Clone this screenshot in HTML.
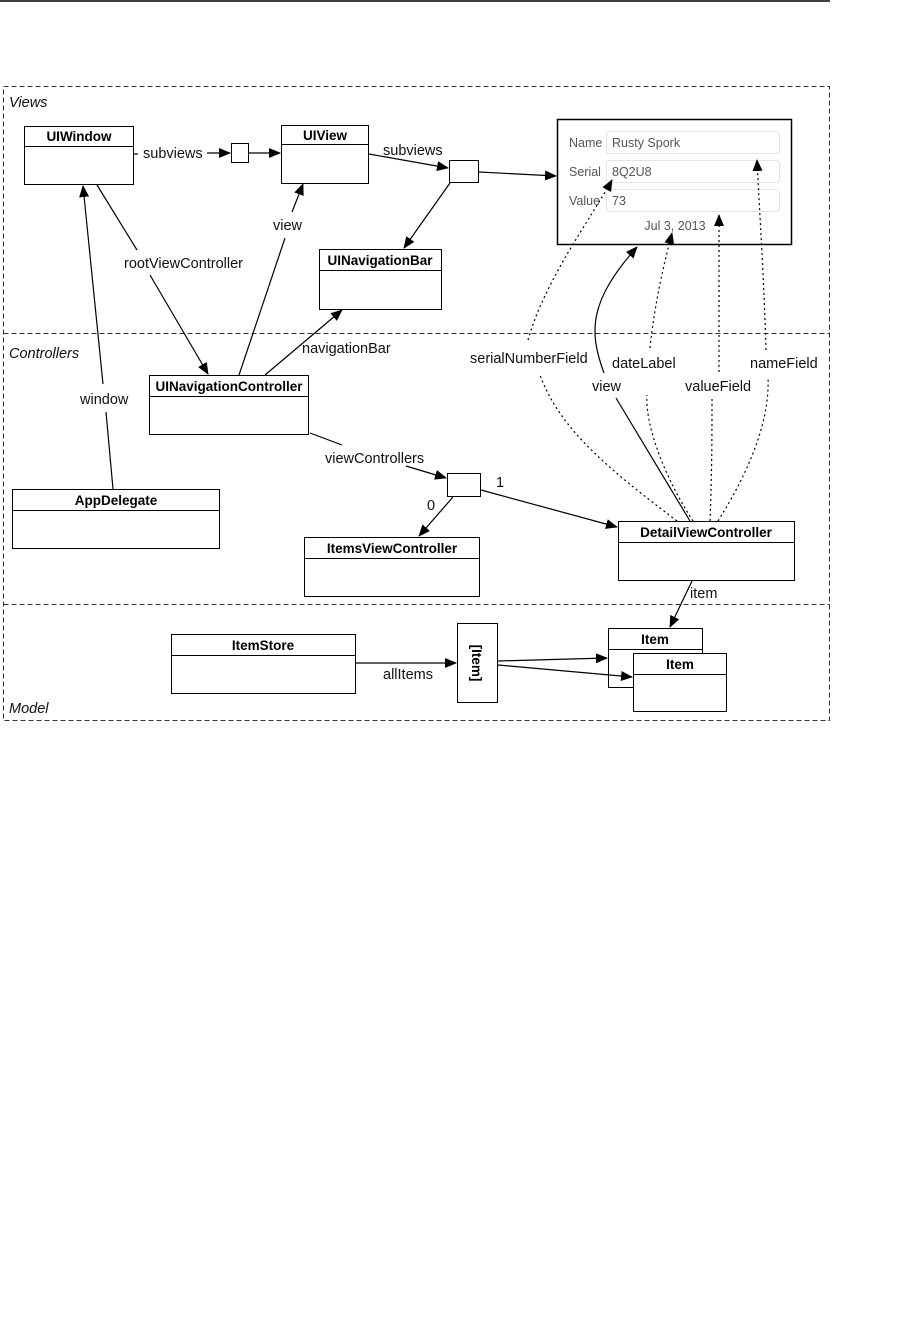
<!DOCTYPE html>
<html><head><meta charset="utf-8"><style>
html,body{margin:0;padding:0;background:#fff;}
svg{display:block;}
text{font-family:"Liberation Sans",sans-serif;}
.lb{font-size:14.5px;fill:#111;}
.cn{font-size:13.5px;font-weight:bold;fill:#000;text-anchor:middle;}
.fm{font-size:12.5px;fill:#555;}
</style></head><body>
<svg width="900" height="1339" viewBox="0 0 900 1339" xmlns="http://www.w3.org/2000/svg">
<defs>
<marker id="a" markerWidth="12" markerHeight="10" refX="11" refY="5" orient="auto" markerUnits="userSpaceOnUse">
<path d="M0,0 L12,5 L0,10 z" fill="#000"/></marker>
</defs>
<line x1="0" y1="1" x2="830" y2="1" stroke="#000" stroke-width="1.5"/>
<rect x="3.5" y="86.5" width="826" height="634" fill="none" stroke="#333" stroke-dasharray="5,3"/>
<line x1="3.5" y1="333.5" x2="829.5" y2="333.5" stroke="#333" stroke-dasharray="5,3"/>
<line x1="3.5" y1="604.5" x2="829.5" y2="604.5" stroke="#333" stroke-dasharray="5,3"/>
<text x="9" y="107" class="lb" font-style="italic">Views</text>
<text x="9" y="358" class="lb" font-style="italic">Controllers</text>
<text x="9" y="713" class="lb" font-style="italic">Model</text>

<g fill="#fff" stroke="#000" stroke-width="1">
<rect x="24.5" y="126.5" width="109" height="58"/><line x1="24.5" y1="146.5" x2="133.5" y2="146.5"/>
<rect x="281.5" y="125.5" width="87" height="58"/><line x1="281.5" y1="144.5" x2="368.5" y2="144.5"/>
<rect x="231.5" y="143.5" width="17" height="19"/>
<rect x="449.5" y="160.5" width="29" height="22"/>
<rect x="557.5" y="119.5" width="234" height="125" stroke-width="1.5"/>
<rect x="319.5" y="249.5" width="122" height="60"/><line x1="319.5" y1="270.5" x2="441.5" y2="270.5"/>
<rect x="149.5" y="375.5" width="159" height="59"/><line x1="149.5" y1="396.5" x2="308.5" y2="396.5"/>
<rect x="12.5" y="489.5" width="207" height="59"/><line x1="12.5" y1="510.5" x2="219.5" y2="510.5"/>
<rect x="447.5" y="473.5" width="33" height="23"/>
<rect x="304.5" y="537.5" width="175" height="59"/><line x1="304.5" y1="558.5" x2="479.5" y2="558.5"/>
<rect x="618.5" y="521.5" width="176" height="59"/><line x1="618.5" y1="542.5" x2="794.5" y2="542.5"/>
<rect x="171.5" y="634.5" width="184" height="59"/><line x1="171.5" y1="655.5" x2="355.5" y2="655.5"/>
<rect x="457.5" y="623.5" width="40" height="79"/>
<rect x="608.5" y="628.5" width="94" height="59"/><line x1="608.5" y1="649.5" x2="702.5" y2="649.5"/>
<rect x="633.5" y="653.5" width="93" height="58"/><line x1="633.5" y1="674.5" x2="726.5" y2="674.5"/>
</g>
<text x="79" y="141" class="cn">UIWindow</text>
<text x="325" y="140" class="cn">UIView</text>
<text x="380" y="265" class="cn">UINavigationBar</text>
<text x="229" y="391" class="cn">UINavigationController</text>
<text x="116" y="505" class="cn">AppDelegate</text>
<text x="392" y="553" class="cn">ItemsViewController</text>
<text x="706" y="537" class="cn">DetailViewController</text>
<text x="263" y="650" class="cn">ItemStore</text>
<text x="655" y="644" class="cn">Item</text>
<text x="680" y="669" class="cn">Item</text>
<text class="cn" transform="translate(472,663) rotate(90)">[Item]</text>

<g fill="#fff" stroke="#e4e4e4">
<rect x="606.5" y="131.5" width="173" height="22" rx="3"/>
<rect x="606.5" y="160.5" width="173" height="22" rx="3"/>
<rect x="606.5" y="189.5" width="173" height="22" rx="3"/>
</g>
<text x="569" y="147" class="fm">Name</text>
<text x="569" y="176" class="fm">Serial</text>
<text x="569" y="205" class="fm">Value</text>
<text x="612" y="147" class="fm">Rusty Spork</text>
<text x="612" y="176" class="fm">8Q2U8</text>
<text x="612" y="205" class="fm">73</text>
<text x="675" y="230" class="fm" text-anchor="middle">Jul 3, 2013</text>

<g stroke="#000" stroke-width="1.2" fill="none">
<line x1="134" y1="154" x2="138" y2="154"/>
<line x1="207" y1="153" x2="230" y2="153" marker-end="url(#a)"/>
<line x1="249" y1="153" x2="280" y2="153" marker-end="url(#a)"/>
<line x1="369" y1="154" x2="448" y2="168" marker-end="url(#a)"/>
<line x1="479" y1="172" x2="556" y2="176" marker-end="url(#a)"/>
<line x1="450" y1="183" x2="404" y2="248" marker-end="url(#a)"/>
<line x1="97" y1="185" x2="137" y2="250"/>
<line x1="150" y1="275" x2="208" y2="374" marker-end="url(#a)"/>
<line x1="113" y1="489" x2="106" y2="412"/>
<line x1="103" y1="384" x2="83" y2="186" marker-end="url(#a)"/>
<line x1="239" y1="375" x2="285" y2="238"/>
<line x1="292" y1="212" x2="303" y2="184" marker-end="url(#a)"/>
<line x1="265" y1="375" x2="342" y2="310" marker-end="url(#a)"/>
<line x1="310" y1="433" x2="342" y2="445"/>
<line x1="406" y1="466" x2="446" y2="478" marker-end="url(#a)"/>
<line x1="453" y1="497" x2="419" y2="536" marker-end="url(#a)"/>
<line x1="481" y1="490" x2="617" y2="527" marker-end="url(#a)"/>
<line x1="692" y1="581" x2="670" y2="627" marker-end="url(#a)"/>
<line x1="356" y1="663" x2="456" y2="663" marker-end="url(#a)"/>
<line x1="498" y1="661" x2="607" y2="658" marker-end="url(#a)"/>
<line x1="498" y1="665" x2="632" y2="677" marker-end="url(#a)"/>
<path d="M690 521 L616 398"/>
<path d="M604 373 C588 330, 590 300, 637 247" marker-end="url(#a)"/>
</g>
<g stroke="#000" stroke-width="1.2" fill="none" stroke-dasharray="2,3">
<path d="M677 521 C610 470, 560 430, 540 375"/>
<path d="M528 340 C545 280, 590 220, 612 180" marker-end="url(#a)"/>
<path d="M693 521 C660 470, 645 420, 647 395"/>
<path d="M650 348 C655 300, 665 260, 672 233" marker-end="url(#a)"/>
<path d="M710 521 C712 470, 712 430, 712 398"/>
<path d="M719 372 C719 300, 719 260, 719 215" marker-end="url(#a)"/>
<path d="M718 521 C750 470, 770 420, 768 377"/>
<path d="M766 350 C764 280, 760 220, 757 160" marker-end="url(#a)"/>
</g>

<text x="143" y="158" class="lb">subviews</text>
<text x="383" y="155" class="lb">subviews</text>
<text x="124" y="268" class="lb">rootViewController</text>
<text x="273" y="230" class="lb">view</text>
<text x="302" y="353" class="lb">navigationBar</text>
<text x="80" y="404" class="lb">window</text>
<text x="325" y="463" class="lb">viewControllers</text>
<text x="427" y="510" class="lb">0</text>
<text x="496" y="487" class="lb">1</text>
<text x="690" y="598" class="lb">item</text>
<text x="383" y="679" class="lb">allItems</text>
<text x="470" y="363" class="lb">serialNumberField</text>
<text x="592" y="391" class="lb">view</text>
<text x="612" y="368" class="lb">dateLabel</text>
<text x="685" y="391" class="lb">valueField</text>
<text x="750" y="368" class="lb">nameField</text>
</svg>
</body></html>
